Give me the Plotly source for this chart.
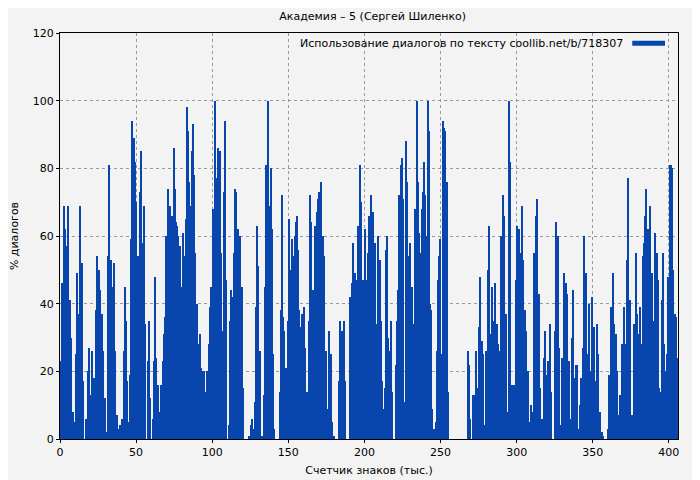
import plotly.graph_objects as go

seg1 = [23,46,69,62,57,69,41,30,8,5,25,49,37,69,52,17,0,6,20,27,13,26,18,38,54,50,44,37,26,12,2,54,81,53]
seg2 = [45,52,26,5,7,3,4,2,6,26,45,35,17,5,19,59,94,89,82,70,54,50,73,85,58,69,34,0,23,35,12,0,6,23,48,24,16,4,8,16,23]
seg3 = [31,36,60,74,64,69,40,66,86,74,64,63,60,57,45,44,61,54,65,98,91,76,69,85,93,78,55,40,19,28,31,21,20,20,10,14,20,28,39,45,43,68,100]
seg4 = [77,76,86,85,55,32,73,94,47,0,4,35,44,42,55,74,73,62,54,60,45,15,0,0,0,0,1,4,6,3,11,39,63,51,26,0,1,13,45,81]
seg5 = [100,66,69,80,62,25,3,0,0,0,0,14,38,72,36,32,21,1,35,65,50,32,59,54,60,64,66,56,38,31,33,37,39,27,14,6,14,35,72,64,44,33,63,56,67,71]
seg6 = [73,76,60,54,26,9,32,25,5,1,0,0,17,35,32,35,17,0,0,42,46,58,49,47,63,81,70,47,62,47,55,66]
seg7 = [72,50,67,58,34,33,60,53,35,17,9,15,56,60,30,26,35,14,0,0,22,35,44,72,81,83,71,11,88,76,54,50,58,45,34,30,68,100,76,61,55,68]
seg8 = [73,82,72,60,52,100,91,40,38,9,3,1,5,26,47,54,59,25,17,94,92,91,76,14] + [0]*18 + [26,22,6,0,0,13]
seg9 = [13,26,15,33,48,29,25,4,26,50,63,31,45,35,46,34,28,26,60,72,66,37,8,100,82,16,5,16,47,63,62,55,69,53,38]
seg10 = [32,20,5,10,8,55,66,71,43,15,6,24,32,19,23,34,14,0,32,64,60,27,4,24,49,46,43,23,6,30,44,18,22]
seg11 = [3,10,18,27,60,49,25,40,20,42,33,17,34,25,8,2,1,0,0,3,19,39,49,34,31,20,7,13,28,39,28,53,77]
seg12 = [41,0,7,34,25,55,37,31,39,28,54,58,66,74,62,58,69,49,35,26,61,55,47,15,14,41,55,28,20,25,48,81,81,80,50,37,36,24]

segments = [seg1,seg2,seg3,seg4,seg5,seg6,seg7,seg8,seg9,seg10,seg11,seg12]
seg_starts = [0,34,68,102,136,170,204,238,272,306,340,374,406]

xs, ys, ws = [], [], []
for k, seg in enumerate(segments):
    a, b = seg_starts[k], seg_starts[k+1]
    w = (b - a) / len(seg)
    for i, v in enumerate(seg):
        xs.append(a + (i + 0.5) * w); ys.append(v); ws.append(w)

fig = go.Figure(go.Bar(x=xs, y=ys, width=ws, marker=dict(color="#0846ad", line=dict(width=0)), showlegend=False))
grid = dict(showgrid=True, gridcolor="#999", griddash="dot", gridwidth=1, showline=True, linecolor="black",
            mirror=True, ticks="outside", ticklen=3, tickcolor="black", zeroline=False, automargin=False,
            tickfont=dict(size=11, color="black"))
fig.update_layout(
    width=692, height=472, paper_bgcolor="#f3f3f3", plot_bgcolor="#f3f3f3",
    font=dict(family="DejaVu Sans", size=11, color="black"),
    title=dict(text="Академия – 5 (Сергей Шиленко)", x=0.527, xanchor="center", y=0.983, yanchor="middle",
               font=dict(size=11), automargin=False),
    margin=dict(l=52, r=22, t=25, b=41), bargap=0,
    xaxis=dict(range=[0, 406], dtick=50, title=dict(text="Счетчик знаков (тыс.)", font=dict(size=11), standoff=8), **grid),
    yaxis=dict(range=[0, 120], dtick=20, title=dict(text="% диалогов", font=dict(size=11), standoff=12), **grid),
    annotations=[dict(text="Использование диалогов по тексту coollib.net/b/718307", xref="paper", yref="paper",
                      x=0.914, y=0.975, xanchor="right", yanchor="middle", showarrow=False, font=dict(size=11))],
    shapes=[dict(type="line", xref="paper", yref="paper", x0=0.926, x1=0.979, y0=0.975, y1=0.975,
                 line=dict(color="#0846ad", width=5))],
)
fig.write_html("out.html")
